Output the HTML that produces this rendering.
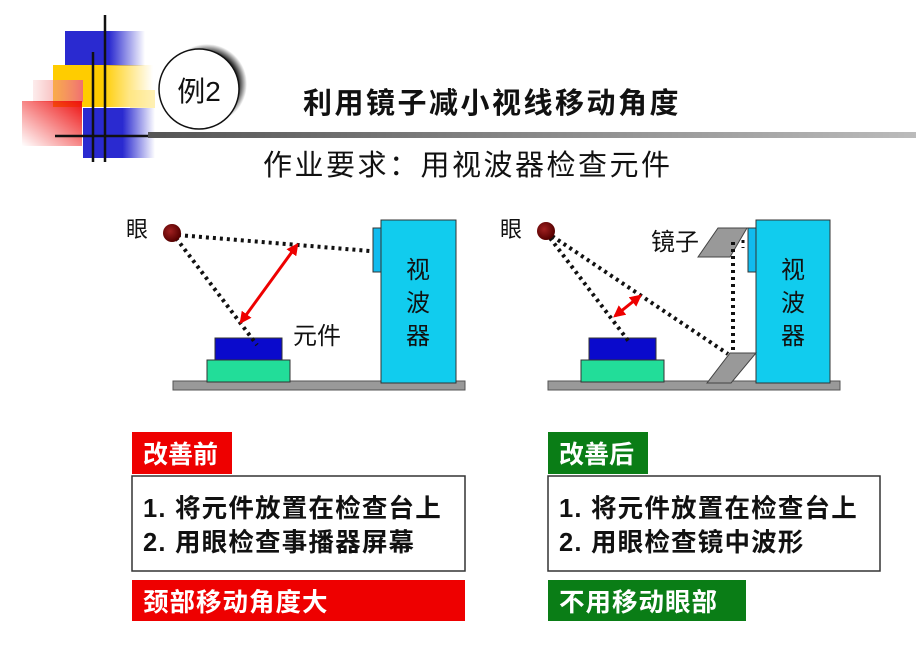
<!DOCTYPE html>
<html><head><meta charset="utf-8"><style>
html,body{margin:0;padding:0;background:#fff;}
svg{display:block;}
text{font-family:"Liberation Sans","Noto Sans CJK SC",sans-serif;}
</style></head><body>
<svg width="916" height="647" viewBox="0 0 916 647" xmlns="http://www.w3.org/2000/svg">
<defs>
<linearGradient id="bl" x1="0" x2="1"><stop offset="0.55" stop-color="#2a2ad0"/><stop offset="1" stop-color="#2a2ad0" stop-opacity="0"/></linearGradient>
<linearGradient id="ye" x1="0" x2="1"><stop offset="0.5" stop-color="#ffcc00"/><stop offset="1" stop-color="#ffcc00" stop-opacity="0"/></linearGradient>
<linearGradient id="rd" x1="1" x2="0" y1="0" y2="1"><stop offset="0" stop-color="#ee1111"/><stop offset="1" stop-color="#ee1111" stop-opacity="0"/></linearGradient>
<linearGradient id="pk" x1="0" x2="1"><stop offset="0" stop-color="#f5a0a0" stop-opacity="0.2"/><stop offset="1" stop-color="#f07070"/></linearGradient>
<linearGradient id="ln" x1="0" x2="1"><stop offset="0" stop-color="#555"/><stop offset="1" stop-color="#bbb"/></linearGradient>
<radialGradient id="sh" cx="0.5" cy="0.5" r="0.5"><stop offset="0.8" stop-color="#333"/><stop offset="1" stop-color="#333" stop-opacity="0"/></radialGradient>
<radialGradient id="eye" cx="0.4" cy="0.4" r="0.6"><stop offset="0" stop-color="#a02020"/><stop offset="1" stop-color="#500"/></radialGradient>
<marker id="ah" viewBox="0 0 10 10" refX="8" refY="5" markerWidth="4" markerHeight="4" orient="auto-start-reverse"><path d="M0,0 L10,5 L0,10 z" fill="#e00"/></marker>
</defs>
<!-- logo -->
<rect x="65" y="31" width="80" height="35" fill="url(#bl)"/>
<rect x="53" y="65" width="100" height="42" fill="url(#ye)"/>
<rect x="130" y="90" width="25" height="18" fill="#ffe680" opacity="0.6"/>
<rect x="33" y="80" width="50" height="22" fill="url(#pk)"/>
<rect x="22" y="101" width="60" height="45" fill="url(#rd)"/>
<rect x="83" y="108" width="72" height="50" fill="url(#bl)"/>
<line x1="105" y1="15" x2="105" y2="162" stroke="#111" stroke-width="2.5"/>
<line x1="93" y1="52" x2="93" y2="162" stroke="#111" stroke-width="2.5"/>
<line x1="55" y1="136" x2="150" y2="136" stroke="#111" stroke-width="2.5"/>
<rect x="148" y="132" width="768" height="6" fill="url(#ln)"/>
<circle cx="207" cy="84" r="40" fill="url(#sh)"/>
<circle cx="199" cy="89" r="40" fill="#fff" stroke="#111" stroke-width="1.5"/>
<text x="199" y="101" font-size="28" text-anchor="middle" fill="#111">例2</text>
<text x="303" y="113" font-size="29" font-weight="bold" letter-spacing="2.5" fill="#111">利用镜子减小视线移动角度</text>
<text x="263" y="175" font-size="29" letter-spacing="2.5" fill="#111">作业要求：用视波器检查元件</text>
<!-- left diagram -->
<text x="126" y="237" font-size="22" fill="#111">眼</text>
<rect x="173" y="381" width="292" height="9" fill="#999" stroke="#555"/>
<rect x="207" y="360" width="83" height="22" fill="#22dd99" stroke="#333"/>
<rect x="215" y="338" width="67" height="22" fill="#0a0acc" stroke="#333"/>
<rect x="373" y="228" width="9" height="44" fill="#11bbee" stroke="#333"/>
<rect x="381" y="220" width="75" height="163" fill="#11ccee" stroke="#333"/>
<text x="418" y="278" font-size="24" text-anchor="middle" fill="#111">视</text>
<text x="418" y="311" font-size="24" text-anchor="middle" fill="#111">波</text>
<text x="418" y="344" font-size="24" text-anchor="middle" fill="#111">器</text>
<text x="293" y="344" font-size="24" fill="#111">元件</text>
<line x1="178" y1="235" x2="370" y2="251" stroke="#111" stroke-width="4" stroke-dasharray="3,4"/>
<line x1="176" y1="238" x2="257" y2="345" stroke="#111" stroke-width="4" stroke-dasharray="3,4"/>
<line x1="297" y1="245" x2="241" y2="322" stroke="#e00" stroke-width="3" marker-start="url(#ah)" marker-end="url(#ah)"/>
<circle cx="172" cy="233" r="9" fill="url(#eye)"/>
<!-- right diagram -->
<text x="500" y="237" font-size="22" fill="#111">眼</text>
<rect x="548" y="381" width="292" height="9" fill="#999" stroke="#555"/>
<rect x="581" y="360" width="83" height="22" fill="#22dd99" stroke="#333"/>
<rect x="589" y="338" width="67" height="22" fill="#0a0acc" stroke="#333"/>
<rect x="748" y="228" width="9" height="44" fill="#11bbee" stroke="#333"/>
<rect x="756" y="220" width="74" height="163" fill="#11ccee" stroke="#333"/>
<text x="793" y="278" font-size="24" text-anchor="middle" fill="#111">视</text>
<text x="793" y="311" font-size="24" text-anchor="middle" fill="#111">波</text>
<text x="793" y="344" font-size="24" text-anchor="middle" fill="#111">器</text>
<text x="651" y="250" font-size="24" fill="#111">镜子</text>
<polygon points="698,257 718,228 747,228 730,257" fill="#999" stroke="#444"/>
<polygon points="707,383 730,353 756,353 731,383" fill="#999" stroke="#444"/>
<line x1="552" y1="236" x2="728" y2="354" stroke="#111" stroke-width="4" stroke-dasharray="3,4"/>
<line x1="550" y1="238" x2="630" y2="343" stroke="#111" stroke-width="4" stroke-dasharray="3,4"/>
<line x1="733" y1="350" x2="733" y2="240" stroke="#111" stroke-width="4" stroke-dasharray="3,4"/>
<line x1="743" y1="240" x2="743" y2="248" stroke="#111" stroke-width="3" stroke-dasharray="3,4"/>
<line x1="640" y1="296" x2="615" y2="316" stroke="#e00" stroke-width="3" marker-start="url(#ah)" marker-end="url(#ah)"/>
<circle cx="546" cy="231" r="9" fill="url(#eye)"/>
<!-- left boxes -->
<rect x="132" y="432" width="100" height="42" fill="#ee0000"/>
<text x="143" y="463" font-size="25" font-weight="bold" fill="#fff">改善前</text>
<rect x="132" y="476" width="333" height="95" fill="#fff" stroke="#333" stroke-width="1.5"/>
<text x="143" y="517" font-size="25.5" font-weight="bold" letter-spacing="1.2" fill="#111">1. 将元件放置在检查台上</text>
<text x="143" y="551" font-size="25.5" font-weight="bold" letter-spacing="1.2" fill="#111">2. 用眼检查事播器屏幕</text>
<rect x="132" y="580" width="333" height="41" fill="#ee0000"/>
<text x="143" y="611" font-size="25.5" font-weight="bold" letter-spacing="1" fill="#fff">颈部移动角度大</text>
<!-- right boxes -->
<rect x="548" y="432" width="100" height="42" fill="#0a7d16"/>
<text x="559" y="463" font-size="25" font-weight="bold" fill="#fff">改善后</text>
<rect x="548" y="476" width="332" height="95" fill="#fff" stroke="#333" stroke-width="1.5"/>
<text x="559" y="517" font-size="25.5" font-weight="bold" letter-spacing="1.2" fill="#111">1. 将元件放置在检查台上</text>
<text x="559" y="551" font-size="25.5" font-weight="bold" letter-spacing="1.2" fill="#111">2. 用眼检查镜中波形</text>
<rect x="548" y="580" width="198" height="41" fill="#0a7d16"/>
<text x="559" y="611" font-size="25.5" font-weight="bold" letter-spacing="1" fill="#fff">不用移动眼部</text>
</svg>
</body></html>
